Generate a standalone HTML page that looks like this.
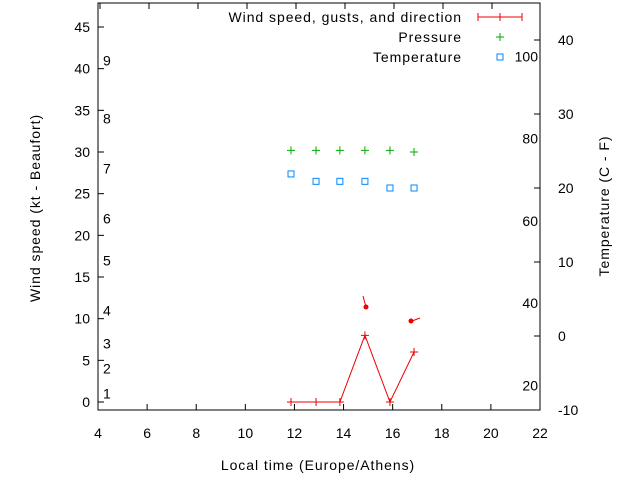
<!DOCTYPE html>
<html><head><meta charset="utf-8"><style>
body{margin:0;background:#fff}
svg{font-family:"Liberation Sans",sans-serif;font-size:14px}
.w{letter-spacing:0.95px}
</style></head><body>
<svg id="c" width="640" height="480"></svg>
<script>
const times=[11.86,12.88,13.85,14.87,15.89,16.87];
const wind=[0,0,0,8,0,6];
const pressure=[30.2,30.2,30.2,30.2,30.2,30.0];
const tempC=[21.9,20.9,20.9,20.9,20.0,20.0];
const xTicks=[4,6,8,10,12,14,16,18,20,22];
const yTicks=[0,5,10,15,20,25,30,35,40,45];
const cTicks=[-10,0,10,20,30,40];
const fTicks=[20,40,60,80,100];
const bft=[[1,1],[2,4],[3,7],[4,11],[5,17],[6,22],[7,28],[8,34],[9,41]];
const L=98,R=540,T=3,B=410;
const X=v=>L+(v-4)*(R-L)/18;
const Y=v=>402-v*(400/48);
const YC=v=>410-(v+10)*7.4;
const svg=document.getElementById('c');
function el(t,a,txt){const e=document.createElementNS('http://www.w3.org/2000/svg',t);for(const k in a)e.setAttribute(k,a[k]);if(txt!==undefined)e.textContent=txt;svg.appendChild(e);return e;}
let e;
e=el('rect',{x:L,y:T,width:R-L,height:B-T,fill:'none',stroke:'#000'});


xTicks.forEach(v=>{
 e=el('line',{x1:X(v),x2:X(v),y1:B,y2:B-6,stroke:'#000'});
 
 
 e=el('text',{x:X(v),y:B+28,'text-anchor':'middle'},v);
 
 
});
[296,345,394,443,492].forEach(p=>{
 e=el('line',{x1:p,x2:p,y1:T,y2:T+6,stroke:'#000'});
 
 
 e=el('line',{x1:p-49*4,x2:p-49*4,y1:T,y2:T+6,stroke:'#000'});
 
 
});
yTicks.forEach(v=>{
 e=el('line',{x1:L,x2:L+6,y1:Y(v),y2:Y(v),stroke:'#000'});
 
 
 e=el('text',{x:L-8,y:Y(v)+5,'text-anchor':'end'},v);
 
 
});
cTicks.forEach(v=>{
 e=el('line',{x1:R,x2:R-6,y1:YC(v),y2:YC(v),stroke:'#000'});
 
 
 e=el('text',{x:R+18,y:YC(v)+5},v);
 
 
});
fTicks.forEach(v=>{
 e=el('text',{x:R-2,y:YC((v-32)*5/9)+5,'text-anchor':'end'},v);
 
 
});
bft.forEach(b=>{
 e=el('text',{x:103,y:Y(b[1])+5},b[0]);
 
 
});
e=el('text',{x:318,y:470,'text-anchor':'middle',class:'w'},'Local time (Europe/Athens)');


e=el('text',{x:40,y:208,'text-anchor':'middle',class:'w',transform:'rotate(-90 40 208)'},'Wind speed (kt - Beaufort)');


e=el('text',{x:609,y:206,'text-anchor':'middle',class:'w',transform:'rotate(-90 609 206)'},'Temperature (C - F)');


e=el('polyline',{points:times.map((t,i)=>X(t)+','+Y(wind[i])).join(' '),fill:'none',stroke:'#e00',"stroke-width":1});


times.forEach((t,i)=>{
 e=el('path',{d:`M${X(t)-4},${Y(wind[i])}h8M${X(t)},${Y(wind[i])-4}v8`,stroke:'#e00'});
 
 
 e=el('path',{d:`M${X(t)-4},${Y(pressure[i])}h8M${X(t)},${Y(pressure[i])-4}v8`,stroke:'#0a0'});
 
 
 e=el('rect',{x:X(t)-3,y:YC(tempC[i])-3,width:6,height:6,fill:'none',stroke:'#08f'});
 
 
});
e=el('path',{d:'M363,296 L366,307',stroke:'#e00',fill:'none'});


e=el('circle',{cx:366,cy:307,r:2.5,fill:'#e00'});


e=el('path',{d:'M420,318 L412,321',stroke:'#e00',fill:'none'});


e=el('circle',{cx:411,cy:321,r:2.5,fill:'#e00'});


e=el('text',{x:462,y:22,'text-anchor':'end',class:'w'},'Wind speed, gusts, and direction');


e=el('path',{d:'M478,17h44M478,13v8M522,13v8M500,13v8',stroke:'#e00'});


e=el('text',{x:462,y:42,'text-anchor':'end',class:'w'},'Pressure');


e=el('path',{d:'M496,37h8M500,33v8',stroke:'#0a0'});


e=el('text',{x:462,y:62,'text-anchor':'end',class:'w'},'Temperature');


e=el('rect',{x:497,y:54,width:6,height:6,fill:'none',stroke:'#08f'});


</script>
</body></html>
